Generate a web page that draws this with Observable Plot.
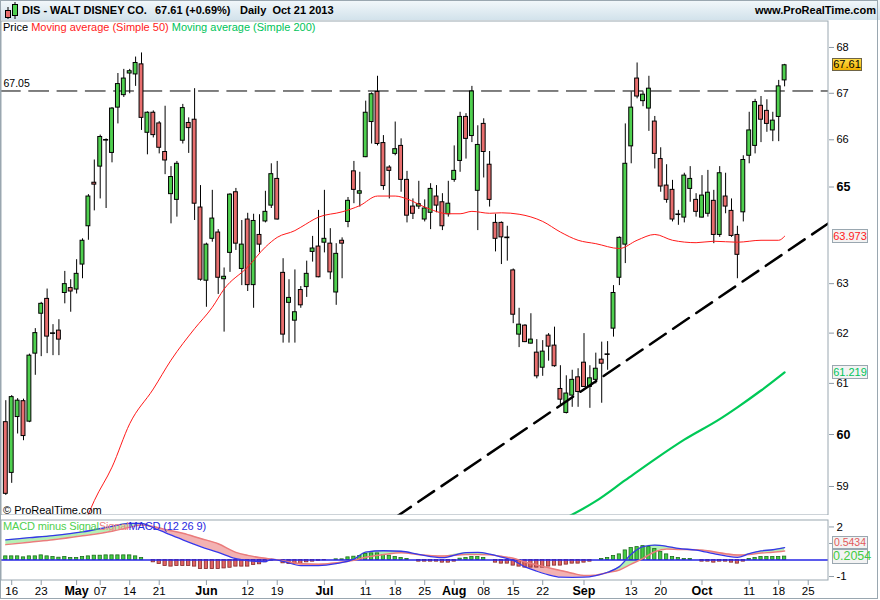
<!DOCTYPE html>
<html><head><meta charset="utf-8">
<script src="https://cdn.jsdelivr.net/npm/d3@7"></script>
<script src="https://cdn.jsdelivr.net/npm/@observablehq/plot@0.6"></script>
<style>
html,body{margin:0;padding:0;overflow:hidden;background:#fff;}
#chart{position:relative;width:880px;height:600px;overflow:hidden;font-family:"Liberation Sans",Arial,sans-serif;color:#000;}
.abs{position:absolute;white-space:pre;}
#hdr{position:absolute;left:0;top:0;width:880px;height:20px;background:linear-gradient(#f3f8fb,#d2e2eb);}
.hb{font-weight:bold;font-size:11px;line-height:13px;top:4px;}
.lg{font-size:11px;line-height:13px;}
.box{position:absolute;box-sizing:border-box;font-size:11px;text-align:center;border:1px solid #9aa7b0;background:#f3f3f3;}
#frameOuter{position:absolute;left:0;top:0;width:878px;height:599px;box-sizing:border-box;border:1px solid #9aa7b0;pointer-events:none;}
</style></head>
<body><div id="chart"></div>
<script>
// ---------- data ----------
const firstDay = "2013-04-15";
const lastAxisDay = "2013-10-25";
const holidays = ["2013-05-27", "2013-07-04", "2013-09-02"];

const open = [60.24,59.26,60.34,60.65,60.25,61.59,62.39,62.69,62.00,62.05,
 62.81,62.91,62.88,63.39,64.18,65.09,65.43,66.00,65.72,66.69,
 66.96,67.43,67.41,67.63,66.15,66.58,66.35,65.74,64.85,64.73,
 65.98,66.36,66.43,64.57,63.06,63.92,64.05,63.09,63.63,64.89,
 63.30,64.32,62.97,64.00,64.28,64.61,65.17,63.22,62.61,62.25,
 62.87,62.93,63.65,63.76,63.84,63.82,62.82,63.88,64.27,65.33,
 64.86,65.63,66.38,67.03,65.93,65.41,65.70,65.87,65.15,64.59,
 64.59,64.32,64.46,64.80,64.68,64.43,65.15,65.55,66.49,66.08,
 64.92,66.34,65.47,64.25,64.25,63.95,63.27,61.97,62.15,61.79,
 61.61,61.31,61.95,61.75,60.89,60.42,60.76,61.12,61.41,60.93,
 61.07,61.47,61.58,62.09,63.12,63.80,65.86,67.32,66.83,66.67,
 66.39,65.59,65.03,64.94,64.43,64.36,64.96,64.73,64.36,64.44,
 64.71,64.00,64.80,64.50,64.00,64.47,65.66,65.87,66.73,66.62,
 66.20,66.49,67.28];
const high = [60.66,60.76,60.70,60.69,61.58,62.09,62.62,62.89,62.17,62.27,
 63.25,63.08,63.49,63.92,64.84,65.57,66.10,66.02,66.69,67.43,
 67.52,67.52,67.79,67.88,66.60,66.62,66.39,66.72,65.43,65.54,
 66.76,66.47,67.10,65.03,63.83,64.93,64.11,63.32,64.86,64.97,
 64.30,64.45,64.43,64.42,64.91,65.49,65.54,63.51,63.08,63.28,
 62.94,63.46,63.97,64.51,64.93,64.13,63.82,63.94,64.78,65.54,
 65.31,66.83,67.01,67.37,66.09,65.45,66.38,66.02,65.33,64.75,
 65.12,64.73,65.07,65.03,64.86,65.12,65.87,66.59,66.56,67.15,
 66.30,66.45,65.75,64.43,64.27,64.18,63.30,62.50,62.17,62.39,
 61.87,61.85,61.99,62.12,61.35,61.15,61.26,61.29,61.99,61.35,
 61.60,61.82,61.83,62.96,63.96,66.34,67.03,67.66,67.03,67.37,
 66.50,65.83,65.47,65.14,64.51,65.29,65.43,64.86,65.24,65.35,
 64.93,65.43,65.29,64.75,64.18,65.66,66.59,66.87,66.93,66.86,
 66.59,67.28,67.63];
const low = [58.83,59.06,60.01,59.88,60.23,61.16,61.53,61.59,61.55,61.55,
 62.59,62.42,62.79,63.10,63.89,64.50,64.75,64.55,65.51,66.34,
 66.91,66.99,67.15,66.20,65.68,66.04,65.70,65.26,64.23,64.37,
 65.91,65.71,64.30,63.05,62.52,63.85,62.78,62.02,63.23,63.68,
 62.96,62.84,62.50,63.63,64.25,64.55,64.31,61.80,61.80,61.80,
 62.50,62.72,63.44,63.12,63.63,63.08,62.56,63.10,64.15,64.65,
 64.58,65.62,65.91,65.87,64.93,64.75,65.66,64.89,64.25,64.32,
 64.53,64.27,64.11,64.46,64.09,64.37,65.10,65.31,65.59,65.94,
 64.09,65.19,64.58,63.65,63.39,63.46,62.19,61.71,61.81,61.78,
 61.09,61.14,61.44,61.32,60.58,60.40,60.53,60.53,60.92,60.51,
 60.99,60.61,61.26,61.92,62.96,63.41,65.49,66.88,66.71,66.18,
 65.38,64.89,64.66,64.27,64.20,64.25,64.68,64.37,64.35,64.37,
 63.82,63.95,64.44,63.95,63.10,64.27,65.49,65.70,65.94,66.16,
 65.96,65.96,67.14];
const close = [58.86,60.73,60.66,59.97,61.55,62.00,62.59,61.93,62.00,61.87,
 62.99,62.84,63.20,63.88,64.80,65.05,66.06,66.00,66.67,67.20,
 67.32,67.48,67.66,66.47,66.58,66.10,65.83,65.56,65.21,65.49,
 66.68,66.25,64.65,63.08,63.80,64.34,63.12,63.14,64.84,63.82,
 63.80,62.97,64.29,63.80,64.48,65.27,64.32,61.97,62.71,62.42,
 62.56,63.20,63.72,63.13,63.92,63.23,63.61,63.82,64.71,64.94,
 64.91,66.58,66.98,65.91,65.02,65.34,65.80,65.15,64.40,64.44,
 64.64,64.55,64.96,64.61,64.18,64.65,65.34,66.49,66.02,67.04,
 65.89,65.74,64.73,63.92,63.95,63.95,62.37,62.17,61.82,61.87,
 61.14,61.63,61.73,61.34,60.68,60.80,61.07,60.83,60.93,61.10,
 61.29,61.39,61.58,62.81,63.94,65.49,66.69,66.93,66.97,67.10,
 65.70,65.01,64.73,64.32,64.43,65.24,65.17,64.48,64.82,64.88,
 64.00,65.29,64.59,63.98,63.59,65.57,66.20,66.81,66.43,66.34,
 66.41,67.15,67.61];

const sma50Day = [13,15,18,21,25,28,32,35,37,41,44,46,49,50,53,57,60,63,66,68,71,75,77,79,82,84,87,91,94,97,100,104,107,110,113,117,120,124,128,131,132];
const sma50Val = [58.20,58.73,59.37,60.21,60.89,61.46,62.09,62.52,62.89,63.34,63.75,63.95,64.09,64.16,64.37,64.48,64.61,64.81,64.81,64.75,64.58,64.44,64.44,64.49,64.45,64.46,64.43,64.28,64.06,63.89,63.82,63.72,63.89,64.01,63.89,63.84,63.87,63.85,63.89,63.89,63.973];
const sma200Day = [94,100,105,110,115,121,124,128,132];
const sma200Val = [58.35,58.72,59.12,59.52,59.90,60.30,60.53,60.86,61.219];

const resistance = 67.05;
const trendDay = [66, 140];
const trendVal = [58.41, 64.29];

const lastClose = 67.61;

const macdDay = [0,4,8,13,18,21,23,25,27,30,33,36,39,41,44,45,47,50,53,56,59,61,64,67,70,74,78,80,82,84,86,88,90,92,94,96,98,100,102,104,106,108,110,112,114,117,120,122,124,126,128,130,132];
const macdVal = [1.22,1.35,1.48,1.70,2.04,2.22,2.22,1.95,1.66,1.22,0.81,0.46,0.08,-0.04,-0.10,0.04,-0.08,-0.34,-0.34,-0.22,0.05,0.48,0.56,0.53,0.34,0.14,0.45,0.46,0.36,0.18,-0.02,-0.42,-0.68,-0.90,-1.04,-1.05,-1.04,-0.94,-0.74,-0.40,0.35,0.81,0.90,0.83,0.70,0.60,0.38,0.25,0.16,0.38,0.55,0.62,0.7488];
const signalVal = [0.93,1.08,1.22,1.46,1.74,1.98,2.12,2.02,1.85,1.62,1.30,0.98,0.46,0.28,0.10,0.06,-0.05,-0.22,-0.25,-0.17,-0.02,0.17,0.33,0.44,0.32,0.24,0.33,0.34,0.31,0.22,0.10,-0.12,-0.30,-0.47,-0.64,-0.80,-0.94,-0.92,-0.76,-0.60,-0.25,0.10,0.50,0.66,0.64,0.62,0.50,0.38,0.30,0.34,0.42,0.47,0.5434];
const histVal = [0.22,0.22,0.22,0.16,0.22,0.22,0.28,0.22,0.18,0.14,0.18,0.12,0.12,0.18,0.22,0.26,0.26,0.28,0.28,0.28,0.28,0.28,0.22,0.12,
 0.0,
 -0.14,-0.24,-0.36,-0.40,-0.36,-0.36,-0.36,-0.40,-0.55,-0.55,-0.55,-0.55,-0.51,-0.47,-0.40,-0.40,-0.40,-0.30,-0.26,-0.14,-0.04,0.0,
 -0.20,-0.24,-0.24,-0.24,-0.14,-0.10,-0.06,-0.02,0.0,
 0.04,0.04,0.16,0.20,0.24,0.36,0.40,0.40,0.30,0.26,0.18,0.12,0.06,0.0,
 -0.10,-0.10,-0.10,-0.10,-0.16,-0.16,-0.10,0.08,0.12,0.18,0.18,0.12,0.0,
 -0.16,-0.22,-0.22,-0.34,-0.40,-0.46,-0.46,-0.46,-0.46,-0.40,-0.34,-0.34,-0.28,-0.22,-0.22,-0.16,-0.10,0.0,
 0.06,0.12,0.24,0.34,0.58,0.72,0.78,0.84,0.78,0.66,0.48,0.34,0.18,0.12,0.06,0.06,0.0,
 -0.10,-0.10,-0.16,-0.10,-0.10,-0.16,-0.22,-0.10,
 0.06,0.12,0.18,0.18,0.18,0.18,0.2054];

const tickDates = ["2013-04-16","2013-04-23","2013-05-01","2013-05-07","2013-05-14","2013-05-21","2013-06-03","2013-06-12","2013-06-19","2013-07-01","2013-07-11","2013-07-18","2013-07-25","2013-08-01","2013-08-08","2013-08-15","2013-08-22","2013-09-03","2013-09-13","2013-09-20","2013-10-01","2013-10-11","2013-10-18","2013-10-25"];
const tickLabels = ["16","23","May","07","14","21","Jun","12","19","Jul","11","18","25","Aug","08","15","22","Sep","13","20","Oct","11","18","25"];
const priceTicks = [68,67,66,63,62,61,59];
const priceTicksBold = [65,60];
const macdTicks = [2,1,-1];
const macdTickLabels = ["2","","-1"];

// ---------- build ----------
const FONT = '"Liberation Sans", Arial, sans-serif';
const fmt = d3.utcFormat("%Y-%m-%d");
const tradingDates = d3.utcDays(new Date(firstDay), d3.utcDay.offset(new Date(lastAxisDay), 1))
  .filter(d => d.getUTCDay() % 6 !== 0 && !holidays.includes(fmt(d))).map(fmt);
const dayOf = new Map(tradingDates.map((s, i) => [s, i]));
const labelOf = new Map(tickDates.map((s, i) => [dayOf.get(s), tickLabels[i]]));
const isMonth = s => /^[A-Za-z]/.test(s);
const numTicks = tickDates.filter((s, i) => !isMonth(tickLabels[i])).map(s => dayOf.get(s));
const monTicks = tickDates.filter((s, i) => isMonth(tickLabels[i])).map(s => dayOf.get(s));
const macdLabelOf = new Map(macdTicks.map((t, i) => [t, macdTickLabels[i]]));

const candles = open.map((o, i) => ({day: i, open: o, high: high[i], low: low[i], close: close[i]}));
const up = candles.filter(d => d.close > d.open);
const down = candles.filter(d => d.close < d.open);
const doji = candles.filter(d => d.close === d.open);
const sma50 = sma50Day.map((d, i) => ({day: d, v: sma50Val[i]}));
const sma200 = sma200Day.map((d, i) => ({day: d, v: sma200Val[i]}));
const trend = trendDay.map((d, i) => ({day: d, v: trendVal[i]}));
const macdRows = macdDay.map((d, i) => ({day: d, macd: macdVal[i], signal: signalVal[i]}));
const hist = histVal.map((v, i) => ({day: i, v}));

const W = 880, priceTop = 20, priceH = 495, macdTop = 519, macdH = 80;
const xDomain = [-0.9, 139.44];
const yDomain = [58.449, 68.596];
const mDomain = [-1.24, 2.45];
const hw = 0.33, bw = 0.28;
const GREEN = "#4fd04f", RED = "#e86e6e", AXIS = "#8f9ca8";
const baseStyle = {background: "transparent", color: "#000", fontFamily: FONT, fontSize: "11px"};

const price = Plot.plot({
  width: W, height: priceH,
  marginTop: 0, marginBottom: 0, marginLeft: 0, marginRight: 52,
  style: baseStyle,
  x: {domain: xDomain, axis: null},
  y: {type: "log", domain: yDomain, axis: null},
  marks: [
    Plot.ruleY([resistance], {stroke: "#000", strokeWidth: 1, strokeDasharray: "20.7,7.6"}),
    Plot.text([resistance], {y: d => d, frameAnchor: "left", dx: 3, dy: -7, textAnchor: "start", text: d => d.toFixed(2), fontSize: 10.5}),
    Plot.ruleX(candles, {x: "day", y1: "low", y2: "high", stroke: "#000", strokeWidth: 1}),
    Plot.rect(up, {x1: d => d.day - hw, x2: d => d.day + hw, y1: "open", y2: "close", fill: GREEN, stroke: "#000", strokeWidth: 1}),
    Plot.rect(down, {x1: d => d.day - hw, x2: d => d.day + hw, y1: "open", y2: "close", fill: RED, stroke: "#000", strokeWidth: 1}),
    Plot.ruleY(doji, {x1: d => d.day - hw - 0.1, x2: d => d.day + hw + 0.1, y: "open", stroke: "#000", strokeWidth: 1.6}),
    Plot.line(sma50, {x: "day", y: "v", stroke: "#ff1a1a", strokeWidth: 1, curve: "monotone-x", clip: true}),
    Plot.line(sma200, {x: "day", y: "v", stroke: "#00c957", strokeWidth: 2.2, curve: "monotone-x", clip: true}),
    Plot.line(trend, {x: "day", y: "v", stroke: "#000", strokeWidth: 2.5, strokeDasharray: "19,9", clip: true}),
    Plot.frame({stroke: "#9aa7b0", inset: 0.5}),
    Plot.axisY({anchor: "right", label: null, ticks: priceTicks, tickFormat: d => String(d), tickSize: 5, tickPadding: 3, fontSize: 11, stroke: AXIS}),
    Plot.axisY({anchor: "right", label: null, ticks: priceTicksBold, tickFormat: d => String(d), tickSize: 5, tickPadding: 3, fontSize: 12.5, fontWeight: "bold", stroke: AXIS})
  ]
});

const macd = Plot.plot({
  width: W, height: macdH,
  marginTop: 0, marginBottom: 19, marginLeft: 0, marginRight: 52,
  style: baseStyle,
  x: {domain: xDomain, axis: null},
  y: {domain: mDomain, axis: null},
  marks: [
    Plot.areaY(macdRows, {x: "day", y1: "signal", y2: d => Math.max(d.macd, d.signal), fill: "#b4f0b4", curve: "monotone-x"}),
    Plot.areaY(macdRows, {x: "day", y1: "signal", y2: d => Math.min(d.macd, d.signal), fill: "#f3b2b2", curve: "monotone-x"}),
    Plot.rect(hist.filter(d => d.v > 0), {x1: d => d.day - bw, x2: d => d.day + bw, y1: 0, y2: "v", fill: "#44cc44", stroke: "#1d6e1d", strokeWidth: 0.8}),
    Plot.rect(hist.filter(d => d.v < 0), {x1: d => d.day - bw, x2: d => d.day + bw, y1: 0, y2: "v", fill: "#e06464", stroke: "#842828", strokeWidth: 0.8}),
    Plot.ruleY([0], {stroke: "#2424e6", strokeWidth: 1.5}),
    Plot.line(macdRows, {x: "day", y: "signal", stroke: "#ea7c7c", strokeWidth: 1.5, curve: "monotone-x"}),
    Plot.line(macdRows, {x: "day", y: "macd", stroke: "#3636ea", strokeWidth: 1.3, curve: "monotone-x"}),
    Plot.frame({stroke: "#9aa7b0", inset: 0.5}),
    Plot.axisY({anchor: "right", label: null, ticks: macdTicks, tickFormat: d => macdLabelOf.get(d), tickSize: 5, tickPadding: 3, fontSize: 11.5, stroke: AXIS}),
    Plot.axisX({anchor: "bottom", label: null, ticks: numTicks, tickFormat: d => labelOf.get(d), tickSize: 5, tickPadding: 1, fontSize: 11.5, stroke: AXIS}),
    Plot.axisX({anchor: "bottom", label: null, ticks: monTicks, tickFormat: d => labelOf.get(d), tickSize: 5, tickPadding: 1, fontSize: 12.5, fontWeight: "bold", stroke: AXIS})
  ]
});

const root = document.getElementById("chart");
function place(el, left, top) { el.style.position = "absolute"; el.style.left = left + "px"; el.style.top = top + "px"; root.appendChild(el); }
place(price, 0, priceTop);
place(macd, 0, macdTop);

function html(s) { const t = document.createElement("div"); t.innerHTML = s; return t.firstElementChild; }
root.appendChild(html(`<div id="hdr">
 <svg width="20" height="20" style="position:absolute;left:2px;top:0">
  <line x1="6" y1="7" x2="6" y2="19" stroke="#000"/><rect x="3.5" y="10.5" width="5" height="7" fill="${RED}" stroke="#000"/>
  <line x1="13" y1="2" x2="13" y2="19" stroke="#000"/><rect x="10.5" y="4.5" width="5" height="11" fill="${GREEN}" stroke="#000"/>
 </svg>
 <span class="abs hb" style="left:22px">DIS - WALT DISNEY CO.</span>
 <span class="abs hb" style="left:155px">${lastClose.toFixed(2)} (+0.69%)</span>
 <span class="abs hb" style="left:240px">Daily  Oct 21 2013</span>
 <span class="abs hb" style="right:4px">www.ProRealTime.com</span>
</div>`));
root.appendChild(html(`<div class="abs lg" style="left:3px;top:21px"><span style="color:#000">Price </span><span style="color:#ff1a1a">Moving average (Simple 50) </span><span style="color:#00c35a">Moving average (Simple 200)</span></div>`));
root.appendChild(html(`<div class="abs lg" style="left:3px;top:504px">© ProRealTime.com</div>`));
root.appendChild(html(`<div class="abs lg" style="left:3px;top:520px;letter-spacing:-0.15px"><span style="color:#4fd04f">MACD minus Signal</span><span style="color:#ec7f7f">Signal</span><span style="color:#2a2ae0">MACD (12 26 9)</span></div>`));

const ys = price.scale("y"), ms = macd.scale("y");
const yPix = v => (ys && ys.apply ? ys.apply(v) : d3.scaleLog().domain(yDomain).range([priceH, 0])(v));
const mPix = v => (ms && ms.apply ? ms.apply(v) : d3.scaleLinear().domain(mDomain).range([macdH - 19, 0])(v));

function box(text, left, top, w, h, style) {
  const b = document.createElement("div");
  b.className = "box";
  b.textContent = text;
  Object.assign(b.style, {left: left + "px", top: top + "px", width: w + "px", height: h + "px", lineHeight: (h - 2) + "px"}, style);
  root.appendChild(b);
}
const lastSma50 = sma50Val[sma50Val.length - 1], lastSma200 = sma200Val[sma200Val.length - 1];
box(lastClose.toFixed(2), 832, priceTop + yPix(lastClose) - 6.5, 30, 13, {background: "linear-gradient(#ffdc4a,#f0b000)", borderColor: "#6e6446", color: "#000"});
box(lastSma50.toFixed(3), 832, priceTop + yPix(lastSma50) - 7, 36, 14, {color: "#ff1a1a"});
box(lastSma200.toFixed(3), 832, priceTop + yPix(lastSma200) - 7, 36, 14, {color: "#00c35a"});
const gTop = Math.round(macdTop + mPix(histVal[histVal.length - 1]) - 7);
box(signalVal[signalVal.length - 1].toFixed(4), 832, gTop - 13, 36, 13, {color: "#e25a5a", fontSize: "10.5px"});
box(histVal[histVal.length - 1].toFixed(4), 832, gTop, 36, 15, {color: "#44cc44", fontSize: "12.5px"});

root.appendChild(html(`<div id="frameOuter"></div>`));
</script></body></html>
